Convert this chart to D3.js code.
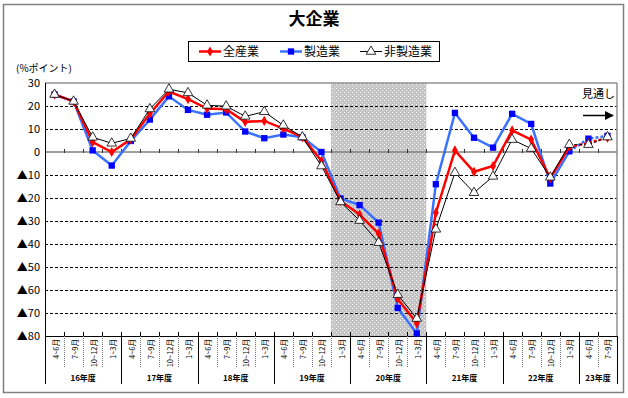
<!DOCTYPE html>
<html>
<head>
<meta charset="utf-8">
<script src="https://cdn.jsdelivr.net/npm/d3@7"></script>
<style>
  body { margin:0; background:#fff; }
  text { font-family: "Noto Sans CJK JP", "Liberation Sans", sans-serif; }
</style>
</head>
<body>
<div id="chart-area"></div>
<script>
//Data
var years = ["16年度","17年度","18年度","19年度","20年度","21年度","22年度","23年度"]
var yearQuarters = [4,4,4,4,4,4,4,2]
var quarters = ["4~6月","7~9月","10~12月","1~3月","4~6月","7~9月","10~12月","1~3月",
  "4~6月","7~9月","10~12月","1~3月","4~6月","7~9月","10~12月","1~3月",
  "4~6月","7~9月","10~12月","1~3月","4~6月","7~9月","10~12月","1~3月",
  "4~6月","7~9月","10~12月","1~3月","4~6月","7~9月"]
var allIndustry = [25,22,4.3,0,5.5,16.7,26.3,23,18.9,18.6,13.1,13.5,10.2,6.5,-3.9,
  -21.3,-27.2,-35.5,-63.9,-74.5,-26.4,0.7,-8.6,-6.1,9.4,5.4,-11.4,2.2,3.9,6.2]
var manufacturing = [25,22,0.7,-5.9,4.8,14.1,24.2,18.3,16.2,17.2,8.9,6.0,7.6,6.4,0,
  -20.2,-23.1,-30.7,-67.8,-78.9,-14.0,17.0,6.2,1.9,16.6,12.2,-13.7,0.3,5.8,7.0]
var nonManufacturing = [25,22,6.4,3.8,5.9,18.7,27.3,25.7,20.3,19.9,15.5,17.5,11.6,6.5,-6.1,
  -21.7,-29.8,-39.4,-62,-72.4,-33.6,-9.0,-17.7,-10.6,5.4,1.5,-11.0,3.2,3.2,6.5]
var yTicks = [30,20,10,0,-10,-20,-30,-40,-50,-60,-70,-80]
var lastActual = 27        // 見通し starts after this point
var shadeFrom = 15, shadeTo = 19

var W = 628, H = 398
var svg = d3.select("#chart-area").append("svg")
  .attr("width",W).attr("height",H)

//Frame
svg.append("rect").attr("x",3.5).attr("y",4.5).attr("width",620).attr("height",388)
  .attr("fill","none").attr("stroke","#808080").attr("stroke-width",1.5)

//Title
svg.append("text").attr("x",314).attr("y",25).attr("text-anchor","middle")
  .attr("font-size","17px").attr("font-weight","bold").text("大企業")

//Scales
var idx = d3.range(quarters.length)
var x = d3.scaleBand().domain(idx).range([45,617]).padding(0)
var y = d3.scaleLinear().domain([-80,30]).range([336,83])
var cx = function(i){ return x(i) + x.bandwidth()/2 }

//Shaded period
var defs = svg.append("defs")
var pat = defs.append("pattern").attr("id","dots").attr("patternUnits","userSpaceOnUse")
  .attr("width",4).attr("height",4)
pat.append("rect").attr("width",4).attr("height",4).attr("fill","#c4c4c4")
pat.append("rect").attr("x",0).attr("y",0).attr("width",1).attr("height",1).attr("fill","#fff")
pat.append("rect").attr("x",2).attr("y",2).attr("width",1).attr("height",1).attr("fill","#eee")
svg.append("rect").attr("x",x(shadeFrom)).attr("y",y(30))
  .attr("width",x(shadeTo)+x.bandwidth()-x(shadeFrom)).attr("height",y(-80)-y(30))
  .attr("fill","url(#dots)")

//Grid lines
svg.selectAll(".grid").data(yTicks.filter(function(d){ return d!==30 && d!==0 && d!==-80 }))
  .enter().append("line")
  .attr("x1",45).attr("x2",617)
  .attr("y1",function(d){ return y(d)+0.5 }).attr("y2",function(d){ return y(d)+0.5 })
  .attr("stroke","#000").attr("stroke-dasharray","3,2").attr("stroke-width",1)

//Plot border
svg.append("line").attr("x1",45).attr("x2",617).attr("y1",y(30)).attr("y2",y(30))
  .attr("stroke","#909090").attr("stroke-width",1.5)
svg.append("line").attr("x1",617).attr("x2",617).attr("y1",y(30)).attr("y2",y(-80))
  .attr("stroke","#909090").attr("stroke-width",1.5)
svg.append("line").attr("x1",45).attr("x2",617).attr("y1",y(0)).attr("y2",y(0))
  .attr("stroke","#808080").attr("stroke-width",1.5)
svg.append("line").attr("x1",45).attr("x2",617).attr("y1",y(-80)+0.5).attr("y2",y(-80)+0.5)
  .attr("stroke","#000").attr("stroke-width",1)

//Ticks on zero line and bottom
svg.selectAll(".tick0").data(d3.range(1,quarters.length)).enter().append("line")
  .attr("x1",function(i){ return Math.round(x(i))+0.5 }).attr("x2",function(i){ return Math.round(x(i))+0.5 })
  .attr("y1",y(0)-3).attr("y2",y(0)+1).attr("stroke","#333")
svg.selectAll(".tickB").data(d3.range(1,quarters.length)).enter().append("line")
  .attr("x1",function(i){ return Math.round(x(i))+0.5 }).attr("x2",function(i){ return Math.round(x(i))+0.5 })
  .attr("y1",y(-80)-4).attr("y2",y(-80)).attr("stroke","#000")

//Y axis
svg.append("line").attr("x1",45.5).attr("x2",45.5).attr("y1",y(30)).attr("y2",384)
  .attr("stroke","#000")
svg.selectAll(".ylab").data(yTicks).enter().append("text")
  .attr("x",40).attr("y",function(d){ return y(d)+4 })
  .attr("text-anchor","end").attr("font-size","11px")
  .attr("font-family","'Liberation Sans', Arial, sans-serif")
  .text(function(d){ return d < 0 ? "▲" + (-d) : d })
svg.append("text").attr("x",16).attr("y",72).attr("font-size","10px").text("(%ポイント)")

//X axis: quarter labels and dividers
var yearStarts = [0]
yearQuarters.forEach(function(n,k){ yearStarts.push(yearStarts[k]+n) })
svg.selectAll(".qdiv").data(d3.range(1,quarters.length).filter(function(i){ return yearStarts.indexOf(i) < 0 }))
  .enter().append("line")
  .attr("x1",function(i){ return Math.round(x(i))+0.5 }).attr("x2",function(i){ return Math.round(x(i))+0.5 })
  .attr("y1",336).attr("y2",368).attr("stroke","#777").attr("stroke-dasharray","1,1")
svg.selectAll(".ydiv").data(yearStarts.slice(1)).enter().append("line")
  .attr("x1",function(i){ return i < quarters.length ? Math.round(x(i))+0.5 : 617.5 })
  .attr("x2",function(i){ return i < quarters.length ? Math.round(x(i))+0.5 : 617.5 })
  .attr("y1",336).attr("y2",384).attr("stroke","#000")
svg.selectAll(".qlab").data(idx).enter().append("text")
  .attr("transform",function(i){ return "translate(" + (cx(i)+0.5) + ",339) rotate(-90)" })
  .attr("text-anchor","end").attr("dominant-baseline","central")
  .attr("font-size","7.5px")
  .text(function(i){ return quarters[i] })
svg.selectAll(".ylab2").data(years).enter().append("text")
  .attr("x",function(d,k){
    var a = x(yearStarts[k]), b = x(yearStarts[k+1]-1) + x.bandwidth()
    return (a+b)/2 })
  .attr("y",381).attr("text-anchor","middle").attr("font-size","8px").attr("font-weight","bold")
  .text(function(d){ return d })

//Series
var series = [
  {name:"製造業", values:manufacturing, color:"#3a72ff", mcolor:"#0000ff", width:2.5, marker:"square"},
  {name:"全産業", values:allIndustry, color:"#ff0000", mcolor:"#ff0000", width:2.5, marker:"diamond"},
  {name:"非製造業", values:nonManufacturing, color:"#000", mcolor:"#000", width:1, marker:"triangle"}
]
var line = d3.line().x(function(d){ return cx(d.i) }).y(function(d){ return y(d.v) })
var symbolOf = {square:d3.symbolSquare, diamond:d3.symbolDiamond, triangle:d3.symbolTriangle}
var sizeOf = {square:40, diamond:30, triangle:40}

series.forEach(function(s){
  var pts = s.values.map(function(v,i){ return {i:i,v:v} })
  svg.append("path").datum(pts.slice(0,lastActual+1)).attr("d",line)
    .attr("fill","none").attr("stroke",s.color).attr("stroke-width",s.width)
  svg.append("path").datum(pts.slice(lastActual)).attr("d",line)
    .attr("fill","none").attr("stroke",s.color).attr("stroke-width",s.width)
    .attr("stroke-dasharray","3,2")
  svg.selectAll(".m-"+s.marker).data(pts).enter().append("path")
    .attr("transform",function(d){ return "translate(" + cx(d.i) + "," + y(d.v) + ")" })
    .attr("d",d3.symbol().type(symbolOf[s.marker]).size(sizeOf[s.marker]))
    .attr("fill",s.marker==="triangle" ? "#fff" : s.mcolor)
    .attr("stroke",s.mcolor).attr("stroke-width",s.marker==="triangle" ? 0.8 : 0)
})

//Forecast label
svg.append("text").attr("x",582).attr("y",98).attr("font-size","11px").text("見通し")
defs.append("marker").attr("id","arrow").attr("viewBox","0 0 10 10").attr("refX",9).attr("refY",5)
  .attr("markerWidth",6).attr("markerHeight",6).attr("orient","auto")
  .append("path").attr("d","M0,0 L10,5 L0,10 z").attr("fill","#000")
svg.append("line").attr("x1",583).attr("x2",613).attr("y1",115.5).attr("y2",115.5)
  .attr("stroke","#000").attr("stroke-width",1.5).attr("marker-end","url(#arrow)")

//Legend
var lg = svg.append("g")
lg.append("rect").attr("x",188.5).attr("y",41.5).attr("width",251).attr("height",20)
  .attr("fill","#fff").attr("stroke","#000")
var legendItems = [
  {s:series[1], x:199},
  {s:series[0], x:280},
  {s:series[2], x:360}
]
legendItems.forEach(function(it){
  lg.append("line").attr("x1",it.x).attr("x2",it.x+22).attr("y1",51.5).attr("y2",51.5)
    .attr("stroke",it.s.color).attr("stroke-width",it.s.width)
  lg.append("path").attr("transform","translate(" + (it.x+11) + ",51.5)")
    .attr("d",d3.symbol().type(symbolOf[it.s.marker]).size(sizeOf[it.s.marker]))
    .attr("fill",it.s.marker==="triangle" ? "#fff" : it.s.mcolor)
    .attr("stroke",it.s.mcolor).attr("stroke-width",it.s.marker==="triangle" ? 0.8 : 0)
  lg.append("text").attr("x",it.x+24).attr("y",56).attr("font-size","12px").text(it.s.name)
})
</script>
</body>
</html>
